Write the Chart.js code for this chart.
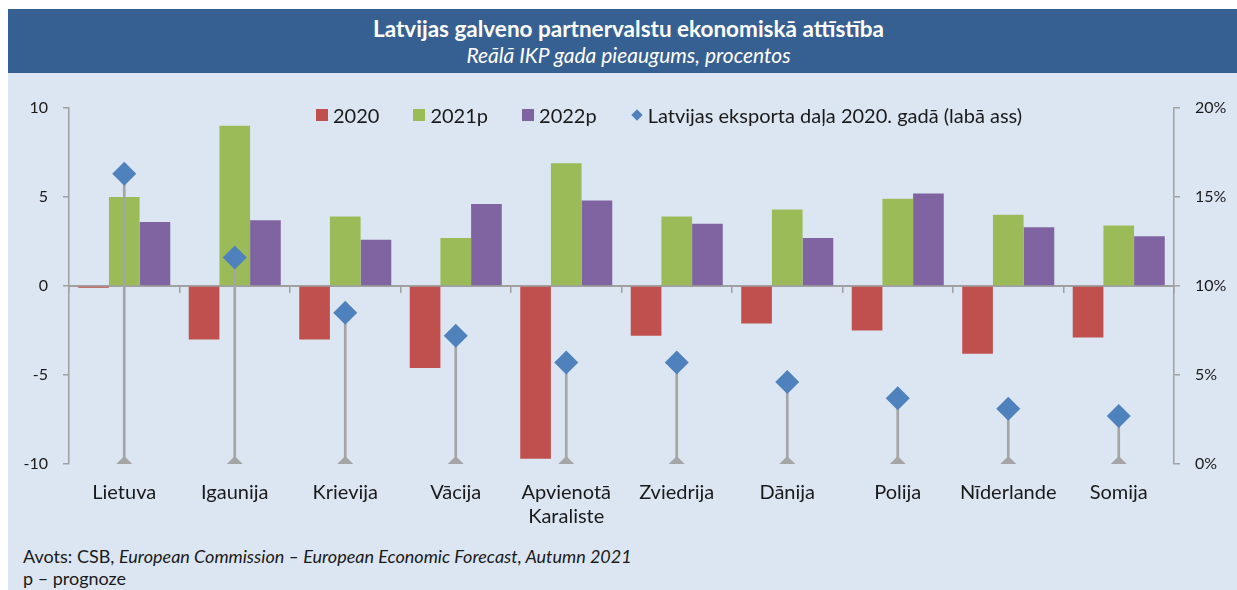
<!DOCTYPE html>
<html>
<head>
<meta charset="utf-8">
<script src="https://cdn.jsdelivr.net/npm/chart.js@4/dist/chart.umd.min.js"></script>
<style>
  body { margin: 0; background: #fff; font-family: Lato, sans-serif; }
  #wrap { position: absolute; left: 8px; top: 9px; width: 1229px; height: 581px; background: #dce6f2; }
  #head { height: 64px; background: #376092; color: #fff; text-align: center; padding-left: 12px; box-sizing: border-box; }
  #head .t { font-weight: bold; font-size: 22.5px; padding-top: 7px; line-height: 26px; }
  #head .s { font-style: italic; font-size: 21px; line-height: 25px; }
  #box { position: absolute; left: 0; top: 64px; }
  #legend { position: absolute; left: 308px; top: 94px; height: 24px; display: flex; align-items: center; font-size: 20px; color: #1a1a1a; white-space: nowrap; }
  #legend .it { display: flex; align-items: center; margin-right: 34px; }
  #legend .sw { width: 12px; height: 12px; margin-right: 5px; }
  #legend .dm { width: 8px; height: 8px; margin: 0 7px 0 2px; transform: rotate(45deg); }
  #src { position: absolute; left: 15px; top: 536px; font-size: 18px; line-height: 22px; color: #1a1a1a; white-space: nowrap; }
</style>
</head>
<body>
<div id="wrap">
  <div id="head">
    <div class="t">Latvijas galveno partnervalstu ekonomiskā attīstība</div>
    <div class="s">Reālā IKP gada pieaugums, procentos</div>
  </div>
  <div id="box"><canvas id="chart" width="1229" height="462"></canvas></div>
  <div id="legend"></div>
  <div id="src">Avots: CSB, <i>European Commission – European Economic Forecast, Autumn 2021</i><br>p – prognoze</div>
</div>
<script>
// valstis
const countries = ['Lietuva', 'Igaunija', 'Krievija', 'Vācija', ['Apvienotā', 'Karaliste'],
                   'Zviedrija', 'Dānija', 'Polija', 'Nīderlande', 'Somija'];

// IKP pieaugums, %
const gdp2020  = [-0.1, -3.0, -3.0, -4.6, -9.7, -2.8, -2.1, -2.5, -3.8, -2.9];
const gdp2021p = [ 5.0,  9.0,  3.9,  2.7,  6.9,  3.9,  4.3,  4.9,  4.0,  3.4];
const gdp2022p = [ 3.6,  3.7,  2.6,  4.6,  4.8,  3.5,  2.7,  5.2,  3.3,  2.8];

// Latvijas eksporta daļa 2020. gadā, % (labā ass)
const exportShare = [16.3, 11.6, 8.5, 7.2, 5.7, 5.7, 4.6, 3.7, 3.1, 2.7];

const leftTicks = [-10, -5, 0, 5, 10];
const rightTicks = [0, 5, 10, 15, 20];

const names = ['2020', '2021p', '2022p', 'Latvijas eksporta daļa 2020. gadā (labā ass)'];
const colors = ['#c0504d', '#9bbb59', '#8064a2', '#4f81bd'];
const gray = '#a5a5a5';
const axisGray = '#a0a0a0';
const txt = '#1a1a1a';

const line = document.getElementById('chart').getContext('2d');
const myChart = new Chart(line, {
    type: 'bar',
    data: {
        labels: countries,
        datasets: [
            { label: names[0], data: gdp2020, backgroundColor: colors[0], order: 3 },
            { label: names[1], data: gdp2021p, backgroundColor: colors[1], order: 3 },
            { label: names[2], data: gdp2022p, backgroundColor: colors[2], order: 3 },
            {
                label: 'stem', data: exportShare.map(v => [0, v]), yAxisID: 'y1',
                grouped: false, barThickness: 2, backgroundColor: gray, order: 2
            },
            {
                type: 'line', label: 'base', data: exportShare.map(() => 0), yAxisID: 'y1',
                showLine: false, pointStyle: 'rectRot', pointRadius: 8, pointBorderWidth: 0,
                pointBackgroundColor: gray, clip: 0, order: 1
            },
            {
                type: 'line', label: names[3], data: exportShare, yAxisID: 'y1',
                showLine: false, pointStyle: 'rectRot', pointRadius: 12, pointBorderWidth: 0,
                pointBackgroundColor: colors[3], order: 0
            }
        ]
    },
    options: {
        responsive: false,
        animation: false,
        categoryPercentage: 0.833,
        barPercentage: 1.0,
        layout: { padding: { top: 35, left: 0, right: 0, bottom: 0 } },
        plugins: { legend: { display: false }, tooltip: { enabled: false } },
        scales: {
            x: {
                offset: true,
                grid: { display: false, drawTicks: false },
                border: { display: false },
                ticks: { color: txt, font: { family: 'Lato', size: 20 }, padding: 17, maxRotation: 0 },
                afterFit: s => { s.height = 71; }
            },
            x2: {
                type: 'category',
                labels: countries,
                position: { y: 0 },
                offset: true,
                grid: { offset: true, drawOnChartArea: false, tickLength: 6, color: axisGray, lineWidth: 1.5 },
                border: { color: axisGray, width: 2 },
                ticks: { display: false }
            },
            y: {
                position: 'left',
                min: leftTicks[0], max: leftTicks[leftTicks.length - 1],
                afterBuildTicks: s => { s.ticks = leftTicks.map(v => ({ value: v })); },
                grid: { drawOnChartArea: false, tickLength: 6, color: axisGray, lineWidth: 1.5 },
                border: { color: axisGray, width: 1.5 },
                ticks: { color: txt, font: { family: 'Lato', size: 16 }, padding: 15 },
                afterFit: s => { s.width = 61; }
            },
            y1: {
                position: 'right',
                min: rightTicks[0], max: rightTicks[rightTicks.length - 1],
                afterBuildTicks: s => { s.ticks = rightTicks.map(v => ({ value: v })); },
                grid: { drawOnChartArea: false, tickLength: 6, color: axisGray, lineWidth: 1.5 },
                border: { color: axisGray, width: 1.5 },
                ticks: { color: txt, font: { family: 'Lato', size: 16 }, padding: 15, callback: v => v + '%' },
                afterFit: s => { s.width = 63; }
            }
        }
    }
});

// legenda
let html = '';
names.forEach((n, i) => {
    const mark = i < 3 ? '<span class="sw" style="background:' + colors[i] + '"></span>'
                       : '<span class="dm" style="background:' + colors[i] + '"></span>';
    html += '<span class="it">' + mark + '<span>' + n + '</span></span>';
});
document.getElementById('legend').innerHTML = html;
</script>
</body>
</html>
